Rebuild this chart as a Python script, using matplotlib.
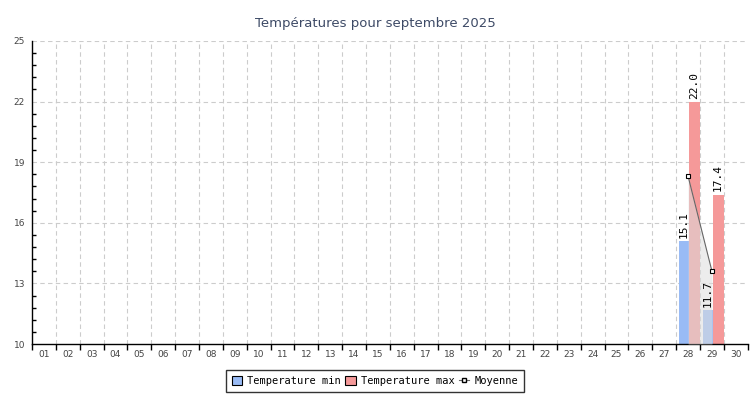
import matplotlib
matplotlib.use("Agg")
import matplotlib.pyplot as plt
from matplotlib.ticker import FixedLocator
from matplotlib.patches import Patch
from matplotlib.lines import Line2D
import numpy as np

days = [f"{d:02d}" for d in range(1, 31)]
y_ticks = [10, 13, 16, 19, 22, 25]
bar_days = [28, 29]
temp_min = [15.1, 11.7]
temp_max = [22.0, 17.4]
mean_days = [28, 29]
temp_mean = [18.3, 13.6]

fig = plt.figure(figsize=(7.5, 4.0), dpi=100)
ax = fig.add_axes([0.0427, 0.14, 0.9543, 0.7575])

c_min = "#99bbf5"
c_max = "#f59999"

xm = np.array(bar_days, dtype=float)
ax.bar(xm - 0.18, np.array(temp_min) - 10, bottom=10, width=0.43, color=c_min, zorder=2)
ax.bar(xm + 0.26, np.array(temp_max) - 10, bottom=10, width=0.45, color=c_max, zorder=2)
for x, v in zip(xm - 0.18, temp_min):
    ax.text(x, v + 0.15, f"{v:.1f}", rotation=90, ha="center", va="bottom",
            fontsize=8, family="DejaVu Sans Mono", zorder=5)
for x, v in zip(xm + 0.26, temp_max):
    ax.text(x, v + 0.15, f"{v:.1f}", rotation=90, ha="center", va="bottom",
            fontsize=8, family="DejaVu Sans Mono", zorder=5)

ax.fill_between(mean_days, temp_mean, 10, color="#dddddd", alpha=0.55, zorder=3, linewidth=0)
ax.plot(mean_days, temp_mean, color="#666666", linewidth=0.8, marker="s", markersize=3,
        markerfacecolor="white", markeredgecolor="black", markeredgewidth=0.8, zorder=4)

ax.set_xlim(0.5, 30.5)
ax.set_ylim(10, 25)
ax.yaxis.set_major_locator(FixedLocator(y_ticks))
ax.yaxis.set_minor_locator(FixedLocator(np.arange(10, 25.01, 0.6)))
ax.xaxis.set_major_locator(FixedLocator(np.arange(1, 31)))
ax.set_xticklabels(days)
ax.xaxis.set_minor_locator(FixedLocator(np.arange(0.5, 31, 1)))
ax.tick_params(axis="x", which="major", length=0, labelsize=6.5, labelcolor="#444444", pad=4)
ax.tick_params(axis="x", which="minor", length=4, width=1, color="black")
ax.tick_params(axis="y", which="major", length=0, labelsize=6.5, labelcolor="#444444", pad=5)
ax.tick_params(axis="y", which="minor", length=3, width=1, direction="in")

for y in y_ticks[1:]:
    ax.axhline(y, color="#cccccc", linestyle=(0, (4, 3)), linewidth=0.8, zorder=1)
for x in np.arange(1.5, 30.5, 1):
    ax.axvline(x, color="#cccccc", linestyle=(0, (4, 3)), linewidth=0.8, zorder=1)

for s in ["top", "right"]:
    ax.spines[s].set_visible(False)
ax.spines["left"].set_linewidth(1)
ax.spines["bottom"].set_linewidth(1)

fig.text(0.5, 0.94, "Températures pour septembre 2025", ha="center", va="center",
         fontsize=9.5, color="#3d4a66")

handles = [
    Patch(facecolor=c_min, edgecolor="black", linewidth=0.8, label="Temperature min"),
    Patch(facecolor=c_max, edgecolor="black", linewidth=0.8, label="Temperature max"),
    Line2D([0], [0], color="#666666", linewidth=0.8, marker="s", markersize=3,
           markerfacecolor="white", markeredgecolor="black", label="Moyenne"),
]
leg = fig.legend(handles=handles, loc="center", bbox_to_anchor=(0.5, 0.0475), ncol=3,
                 frameon=True, fancybox=False, edgecolor="black",
                 prop={"family": "DejaVu Sans Mono", "size": 7.5},
                 handlelength=1.0, handleheight=1.0, handletextpad=0.5, columnspacing=0.4,
                 borderpad=0.6)
leg.get_frame().set_linewidth(1)

fig.savefig("out.png", dpi=100)
